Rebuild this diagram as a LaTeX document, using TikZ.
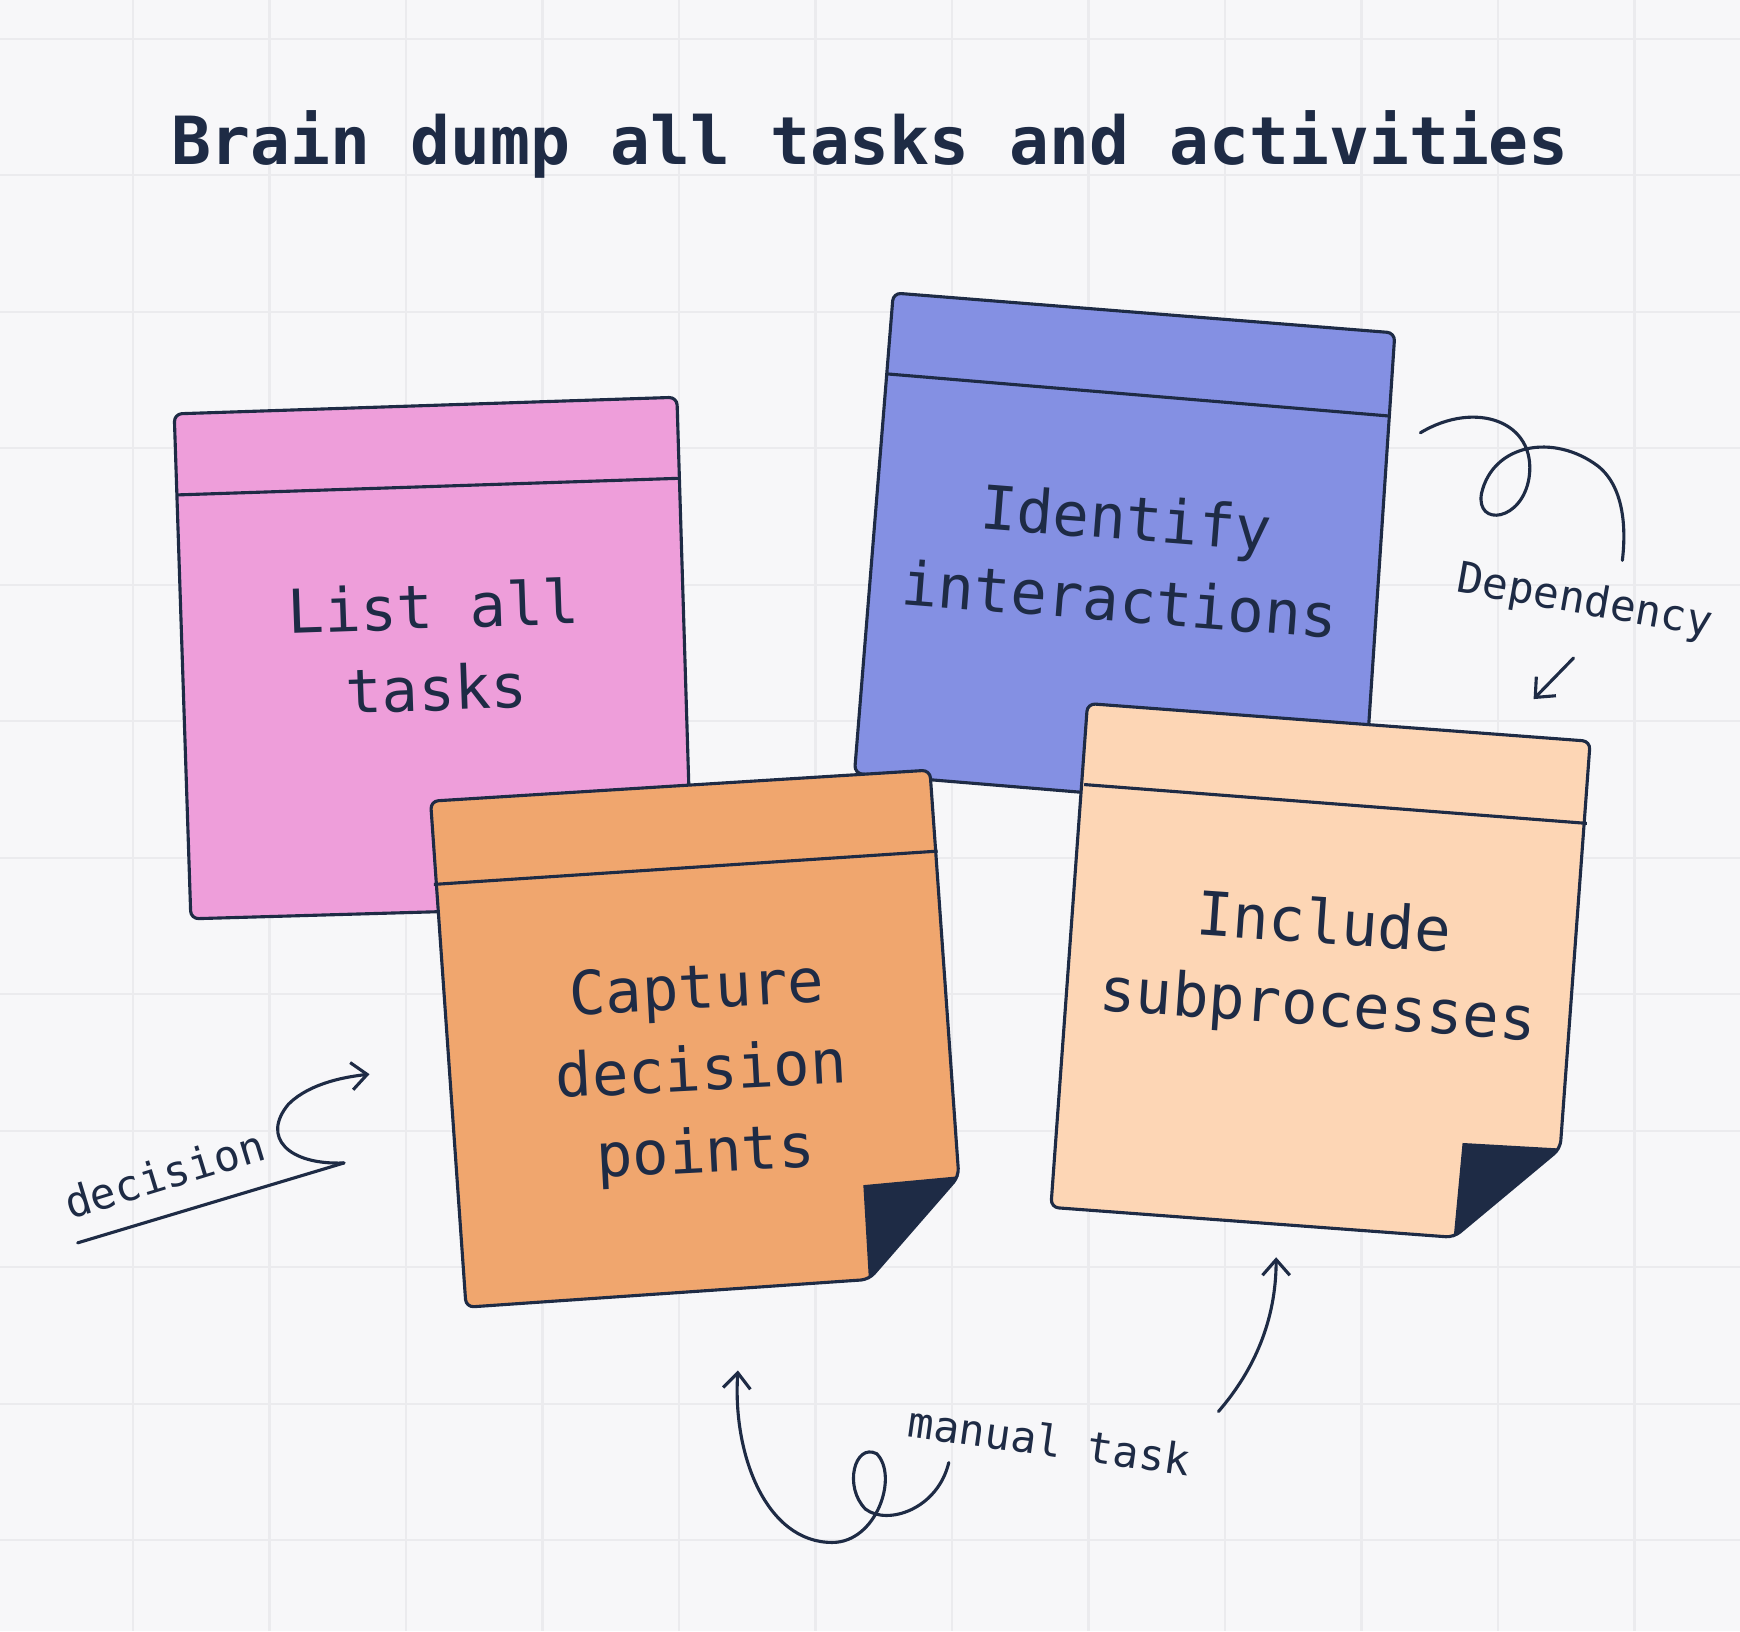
\documentclass[tikz,border=0pt]{standalone}
\usepackage{fontspec}
\setmonofont{DejaVu Sans Mono}
\usetikzlibrary{arrows.meta}
\definecolor{ink}{HTML}{1E2B45}
\definecolor{bg}{HTML}{F7F7F9}
\definecolor{gridc}{HTML}{EBEBEE}
\definecolor{pink}{HTML}{EE9EDA}
\definecolor{blue}{HTML}{8490E3}
\definecolor{orng}{HTML}{F0A66E}
\definecolor{peach}{HTML}{FDD6B5}
\tikzset{note/.style={draw=ink,line width=0.8pt,rounded corners=2pt,line join=round},
 hdr/.style={draw=ink,line width=0.8pt},
 lbl/.style={text=ink,font=\ttfamily\fontsize{15.5}{21}\selectfont,align=center},
 ann/.style={text=ink,font=\ttfamily\fontsize{11}{13}\selectfont},
 crv/.style={draw=ink,line width=0.8pt,line cap=round},
 arr/.style={crv,-{Straight Barb[length=4pt,width=7pt]}}}
\begin{document}
\begin{tikzpicture}[x=0.01cm,y=-0.01cm]
\fill[bg] (0,0) rectangle (1568,1470);
\useasboundingbox (0,0) rectangle (1568,1470);
\foreach \v in {120,243,366,489,612,735,858,981,1104,1227,1350,1473}
  \draw[gridc,line width=0.6pt] (\v,0) -- (\v,1470);
\foreach \v in {35,158,281,404,527,650,773,896,1019,1142,1265,1388}
  \draw[gridc,line width=0.6pt] (0,\v) -- (1568,\v);
\node[text=ink,font=\ttfamily\bfseries\fontsize{17}{20}\selectfont] (title) at (784,130) {Brain dump all tasks and activities};
% pink
\draw[note,fill=pink] (157,373) -- (610,358) -- (624,815) -- (172,828) -- cycle;
\draw[hdr] (160,446) -- (613,431);
\node[lbl,rotate=2] (t1) at (392,583) {List all\\tasks};
% blue
\draw[note,fill=blue] (805,264) -- (1257,300) -- (1228,735) -- (770,697) -- cycle;
\draw[hdr] (800,337) -- (1253,375);
\node[lbl,rotate=-4.5] (t2) at (1012,503) {Identify\\interactions};
% orange
\draw[note,fill=orng] (388,722) -- (838,694) -- (864,1060) -- (783,1153) -- (420,1178) -- cycle;
\draw[hdr] (391,797) -- (845,767);
\fill[ink] (778,1068) -- (864,1060) -- (783,1153) -- cycle;
\node[lbl,rotate=3] (t3) at (632,968) {Capture\\decision\\points};
% peach
\draw[note,fill=peach] (980,634) -- (1433,668) -- (1406,1035) -- (1310,1115) -- (947,1088) -- cycle;
\draw[hdr] (977,707) -- (1430,742);
\fill[ink] (1318,1030) -- (1406,1035) -- (1310,1115) -- cycle;
\node[lbl,rotate=-4] (t4) at (1190,872) {Include\\subprocesses};
% Dependency
\node[ann,rotate=-10] (dep) at (1428,543) {Dependency};
\draw[crv] (1280,390) .. controls (1330,360) and (1385,380) .. (1378,430) .. controls (1372,470) and (1330,475) .. (1335,445) .. controls (1345,400) and (1400,390) .. (1440,420) .. controls (1465,440) and (1465,480) .. (1462,505);
\draw[arr] (1418,593) -- (1382,630);
% decision
\node[ann,rotate=17] (dec) at (148,1058) {decision};
\draw[crv] (70,1120) -- (310,1048);
\draw[arr] (310,1048) .. controls (260,1050) and (235,1025) .. (260,995) .. controls (280,975) and (315,970) .. (333,968);
% manual task
\node[ann,rotate=-8] (man) at (946,1298) {manual task};
\draw[arr] (1098,1272) .. controls (1130,1235) and (1150,1190) .. (1150,1133);
\draw[arr] (855,1318) .. controls (845,1360) and (800,1375) .. (780,1360) .. controls (760,1340) and (770,1300) .. (790,1310) .. controls (810,1330) and (790,1390) .. (750,1390) .. controls (690,1390) and (660,1310) .. (665,1235);
\end{tikzpicture}
\end{document}
